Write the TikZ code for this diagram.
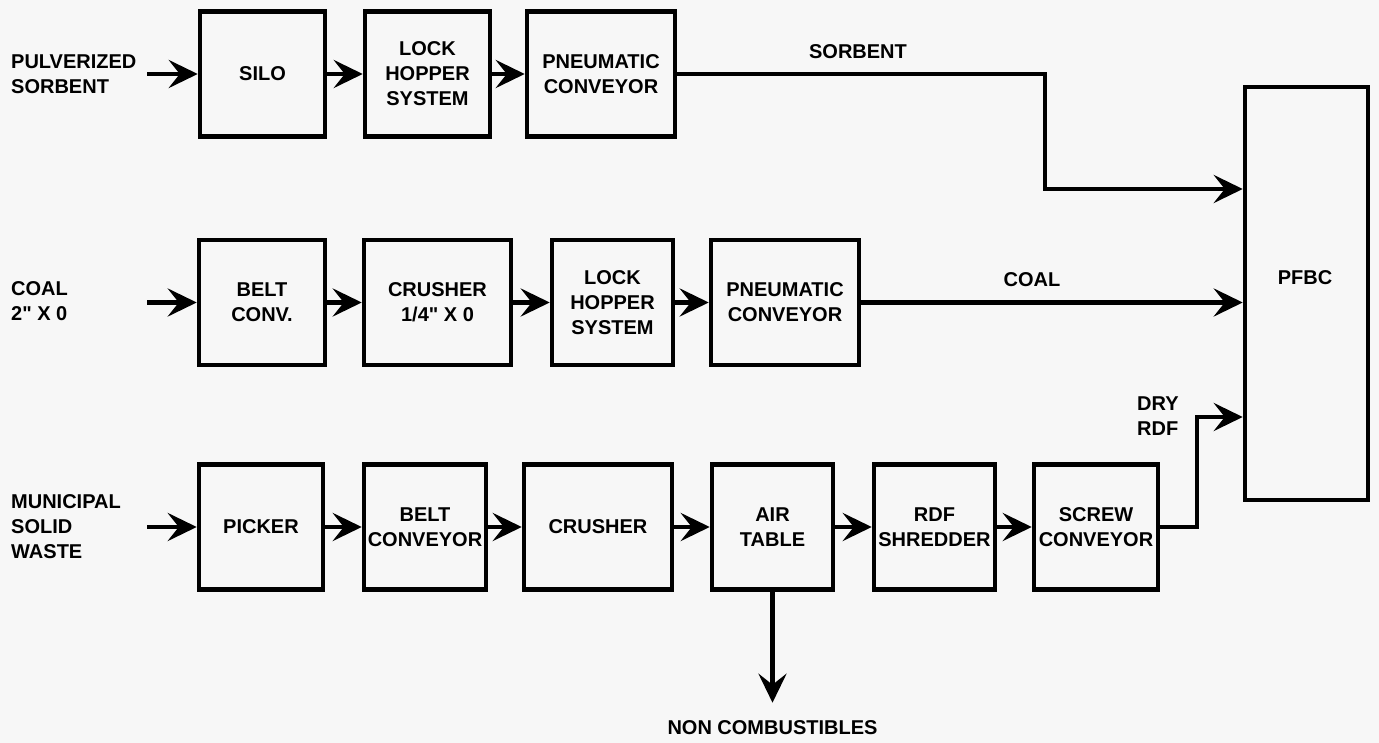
\documentclass[tikz,border=0pt]{standalone}
\usepackage{fontspec}
\setmainfont{Liberation Sans}
\usetikzlibrary{arrows.meta}
\definecolor{paper}{RGB}{247,247,247}
\newcommand{\flowfont}{\fontsize{20}{25}\selectfont\bfseries}

\begin{document}
\begin{tikzpicture}[x=1pt,y=-1pt,
  unit/.style={draw,line width=4.5pt,minimum height=125pt,inner sep=0pt,align=center,font=\flowfont},
  feed/.style={anchor=west,align=left,inner sep=0pt,font=\flowfont},
  tag/.style={inner sep=0pt,align=left,font=\flowfont},
  flow/.style={line width=4.5pt,-{Stealth[length=29pt,width=28pt,inset=11pt]}}]

\fill[paper] (0,0) rectangle (1379,743);
\useasboundingbox (0,0) rectangle (1379,743);

\node[feed] (sorbin) at (11,74) {PULVERIZED\\SORBENT};
\node[unit,minimum width=125pt] (silo) at (262.5,74) {SILO};
\node[unit,minimum width=125pt] (lock1) at (427.5,74) {LOCK\\HOPPER\\SYSTEM};
\node[unit,minimum width=148pt] (pneu1) at (601,74) {PNEUMATIC\\CONVEYOR};
\coordinate (sorbstart) at (147,74);
\coordinate (sorbbend) at (1045,189);

\node[feed] (coalin) at (11,301) {COAL\\2\textquotedbl\ X 0};
\node[unit,minimum width=126pt] (belt1) at (262,302.5) {BELT\\CONV.};
\node[unit,minimum width=147pt] (crush1) at (437.5,302.5) {CRUSHER\\1/4\textquotedbl\ X 0};
\node[unit,minimum width=121pt] (lock2) at (612.5,302.5) {LOCK\\HOPPER\\SYSTEM};
\node[unit,minimum width=148pt] (pneu2) at (785,302.5) {PNEUMATIC\\CONVEYOR};
\coordinate (coalstart) at (147,302.5);

\node[feed] (mswin) at (11,527) {MUNICIPAL\\SOLID\\WASTE};
\node[unit,minimum width=124pt] (picker) at (261,527) {PICKER};
\node[unit,minimum width=122pt] (belt2) at (425,527) {BELT\\CONVEYOR};
\node[unit,minimum width=148pt] (crush2) at (598,527) {CRUSHER};
\node[unit,minimum width=121pt] (air) at (772.5,527) {AIR\\TABLE};
\node[unit,minimum width=121pt] (shred) at (934.5,527) {RDF\\SHREDDER};
\node[unit,minimum width=124pt] (screw) at (1096,527) {SCREW\\CONVEYOR};
\coordinate (mswstart) at (147,527);
\coordinate (rdfbend) at (1197,417);

\node[unit,minimum width=123pt,minimum height=413pt] (pfbc) at (1306.5,293.5) {};
\node[tag] (pfbclab) at (1305,278) {PFBC};

\node[tag] (sorblab) at (858,52) {SORBENT};
\node[tag] (coallab) at (1032,280) {COAL};
\node[tag,anchor=west] (rdflab) at (1137,416) {DRY\\RDF};
\node[tag] (noncomb) at (772.5,728) {NON COMBUSTIBLES};

\draw[flow] (sorbstart) -- (sorbstart -| silo.west);
\draw[flow] (silo) -- (lock1);
\draw[flow] (lock1) -- (pneu1);
\draw[flow] (pneu1.east) -| (sorbbend) -- (sorbbend -| pfbc.west);

\draw[flow] (coalstart) -- (coalstart -| belt1.west);
\draw[flow] (belt1) -- (crush1);
\draw[flow] (crush1) -- (lock2);
\draw[flow] (lock2) -- (pneu2);
\draw[flow] (pneu2) -- (pneu2 -| pfbc.west);

\draw[flow] (mswstart) -- (mswstart -| picker.west);
\draw[flow] (picker) -- (belt2);
\draw[flow] (belt2) -- (crush2);
\draw[flow] (crush2) -- (air);
\draw[flow] (air) -- (shred);
\draw[flow] (shred) -- (screw);
\draw[flow] (screw.east) -| (rdfbend) -- (rdfbend -| pfbc.west);
\draw[flow,shorten >=18pt] (air) -- (noncomb);

\end{tikzpicture}
\end{document}
